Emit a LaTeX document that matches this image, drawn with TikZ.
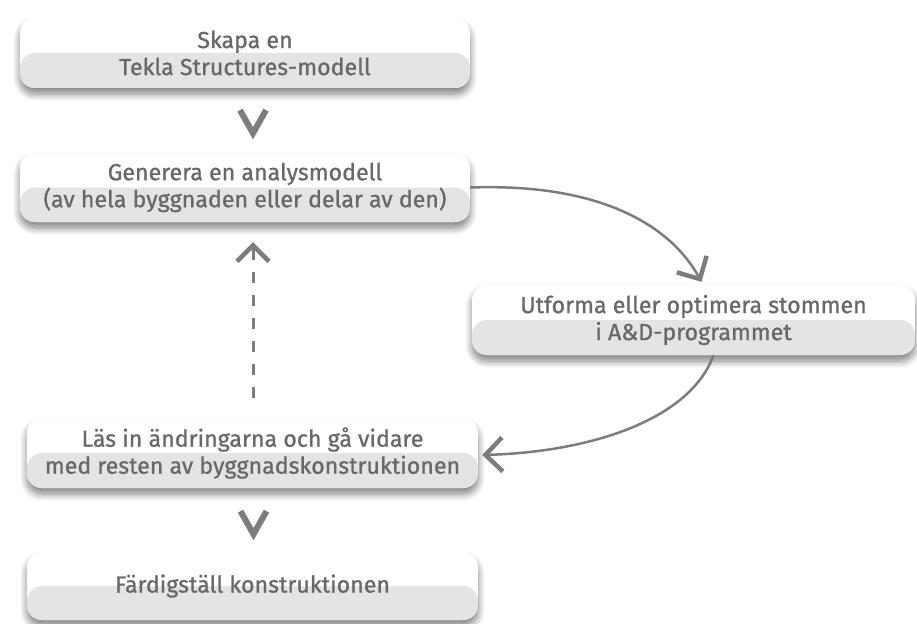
\documentclass[tikz,border=0pt]{standalone}
\usepackage{fontspec}
\setmainfont{Fira Sans}
\newfontfamily\boxfont{Fira Sans}[FakeBold=0.9]
\usetikzlibrary{arrows.meta,calc,shadows.blur}
\definecolor{boxgray}{HTML}{E4E4E4}
\definecolor{txtgray}{HTML}{686868}
\definecolor{arrgray}{HTML}{7C7C7C}
\tikzset{
  box/.style={rounded corners=15pt, fill=white, draw=none, inner sep=0pt,
    align=center, text=txtgray, font=\boxfont\fontsize{23.2}{27}\selectfont,
    blur shadow={shadow xshift=0pt, shadow yshift=-6pt, shadow blur steps=10,
      shadow blur radius=7pt, shadow opacity=50},
    path picture={\fill[boxgray] (path picture bounding box.west) rectangle (path picture bounding box.south east);}},
  curvearr/.style={draw=arrgray, line width=2.5pt,
    -{Straight Barb[length=17pt,width=34pt,line width=4.5pt]}},
  dasharr/.style={draw=arrgray, line width=3pt, dash pattern=on 11pt off 12pt,
    -{Straight Barb[length=16pt,width=32pt,line width=4.5pt]}},
  chev/.style={draw=arrgray, line width=6pt, line cap=butt, line join=miter}
}
\begin{document}
\begin{tikzpicture}[x=1pt,y=-1pt]
\useasboundingbox (0,0) rectangle (917,623);
\node[box, minimum width=450pt, minimum height=70pt] (b1) at (245,53) {Skapa en\\Tekla Structures-modell};
\node[box, minimum width=450pt, minimum height=69pt] (b2) at (245,187.5) {Generera en analysmodell\\(av hela byggnaden eller delar av den)};
\node[box, minimum width=443pt, minimum height=70pt] (b3) at (693.5,320) {Utforma eller optimera stommen\\i A\&D-programmet};
\node[box, minimum width=451pt, minimum height=70pt] (b4) at (252.5,453) {Läs in ändringarna och gå vidare\\med resten av byggnadskonstruktionen};
\node[box, minimum width=451pt, minimum height=68pt] (b5) at (252.5,586) {Färdigställ konstruktionen};
% chevrons
\coordinate (v1) at ($(b1.south)+(8,34)$);
\coordinate (v2) at ($(b4.south)+(1,35)$);
\draw[chev] ($(v1)+(-13,-12)$) -- ($(v1)+(0,11)$) -- ($(v1)+(13,-12)$);
\draw[chev] ($(v2)+(-13,-12)$) -- ($(v2)+(0,11)$) -- ($(v2)+(13,-12)$);
% dashed feedback arrow
\draw[dasharr] ($(b4.north)+(0.5,-20)$) -- ($(b2.south)+(8,20)$);
% curved arrows
\draw[curvearr] (b2.east) .. controls (600,183) and (670,225) .. ($(b3.north)+(8,-3)$);
\draw[curvearr] ($(b3.south)+(20,0)$) .. controls (690,420) and (590,452) .. ($(b4.east)+(4,2)$);
\end{tikzpicture}
\end{document}
